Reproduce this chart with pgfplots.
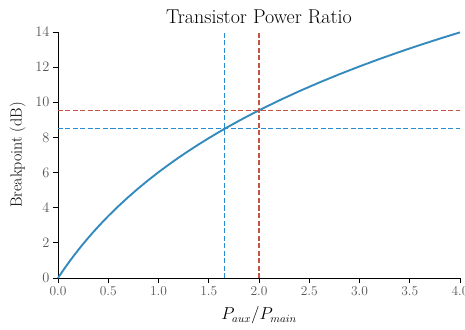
\documentclass[border=0pt]{standalone}
\usepackage{pgfplots}
\pgfplotsset{compat=1.18}
\definecolor{cblue}{HTML}{348ABD}
\definecolor{dblue}{RGB}{40,140,210}
\definecolor{dred}{RGB}{196,84,70}
\definecolor{tickgray}{RGB}{85,85,85}
\begin{document}
\begin{tikzpicture}
\begin{axis}[
  name=ax,
  scale only axis,
  width=402pt, height=246pt,
  xmin=0, xmax=4, ymin=0, ymax=14,
  axis x line*=bottom, axis y line*=left,
  axis line style={black, line width=0.8pt, -},
  xtick={0,0.5,...,4}, ytick={0,2,...,14},
  xticklabels={0.0,0.5,1.0,1.5,2.0,2.5,3.0,3.5,4.0},
  tick align=outside,
  major tick length=5pt,
  tick style={black, line width=0.8pt},
  ticklabel style={font=\fontsize{13.5}{15}\selectfont, text=tickgray},
  title={Transistor Power Ratio},
  title style={font=\fontsize{20}{24}\selectfont, yshift=-1pt},
  xlabel={$P_{aux}/P_{main}$},
  ylabel={Breakpoint (dB)},
  label style={font=\fontsize{16}{18}\selectfont},
  xlabel style={yshift=-4pt},
  ylabel style={yshift=3pt},
  clip=false,
]
\addplot[cblue, line width=1.9pt] coordinates {
(0,0) (0.05,0.4238) (0.1,0.8279) (0.15,1.2140) (0.2,1.5836) (0.25,1.9382)
(0.3,2.2789) (0.35,2.6067) (0.4,2.9226) (0.45,3.2274) (0.5,3.5218)
(0.6,4.0824) (0.7,4.6090) (0.8,5.1055) (0.9,5.5751) (1.0,6.0206)
(1.1,6.4444) (1.2,6.8485) (1.3,7.2346) (1.4,7.6042) (1.5,7.9588)
(1.6,8.2995) (1.7,8.6273) (1.8,8.9432) (1.9,9.2480) (2.0,9.5424)
(2.2,10.1030) (2.4,10.6296) (2.6,11.1261) (2.8,11.5957) (3.0,12.0412)
(3.2,12.4650) (3.4,12.8691) (3.6,13.2552) (3.8,13.6248) (4.0,13.9794)
};
\addplot[dblue, line width=1.1pt, dash pattern=on 5pt off 2.5pt] coordinates {(0,8.5) (4,8.5)};
\addplot[dred, line width=1.1pt, dash pattern=on 5pt off 2.5pt] coordinates {(0,9.5424) (4,9.5424)};
\addplot[dblue, line width=1.1pt, dash pattern=on 5pt off 2.5pt] coordinates {(1.661,0) (1.661,14)};
\addplot[dred, line width=1.1pt, dash pattern=on 5pt off 2.5pt] coordinates {(2,0) (2,14)};
\end{axis}
\pgfresetboundingbox
\path[use as bounding box] ([xshift=-58pt,yshift=-51pt]ax.south west) rectangle ([xshift=5pt,yshift=32pt]ax.north east);
\end{tikzpicture}
\end{document}
